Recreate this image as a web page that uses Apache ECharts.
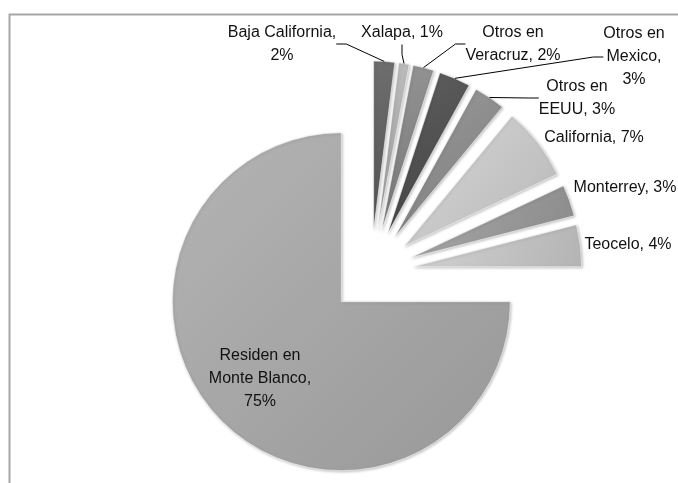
<!DOCTYPE html>
<html>
<head>
<meta charset="utf-8">
<script src="https://cdn.jsdelivr.net/npm/echarts@6/dist/echarts.min.js"></script>
<style>
html,body{margin:0;padding:0;background:#fff;}
#chart{width:678px;height:483px;}
</style>
</head>
<body>
<div id="chart"></div>
<script>
// Data
var categories = ['Baja California', 'Xalapa', 'Otros en Veracruz', 'Otros en Mexico', 'Otros en EEUU', 'California', 'Monterrey', 'Teocelo', 'Residen en Monte Blanco'];
var values = [2, 1, 2, 3, 3, 7, 3, 4, 75];
var labelTexts = ['Baja California,\n2%', 'Xalapa, 1%', 'Otros en\nVeracruz, 2%', 'Otros en\nMexico,\n3%', 'Otros en\nEEUU, 3%', 'California, 7%', 'Monterrey, 3%', 'Teocelo, 4%', 'Residen en\nMonte Blanco,\n75%'];

// Styles (kept separate from data)
var sliceColors = [
  ['#6e6e6e', '#525252'],
  ['#bcbcbc', '#9a9a9a'],
  ['#949494', '#767676'],
  ['#5e5e5e', '#434343'],
  ['#9a9a9a', '#7c7c7c'],
  ['#d6d6d6', '#b8b8b8'],
  ['#a8a8a8', '#8a8a8a'],
  ['#d2d2d2', '#b4b4b4'],
  ['#b4b4b4', '#989898']
];
var labelPos = [
  [282, 44], [402, 33], [513, 44], [634, 57], [577, 98],
  [594, 138], [625, 188], [628, 245], [260, 379]
];
var showLine = [true, true, true, true, true, false, false, false, false];

var chart = echarts.init(document.getElementById('chart'));

var sliceData = values.map(function (v, i) {
  var c = sliceColors[i];
  var grad = new echarts.graphic.LinearGradient(0, 0, 1, 1, [
    {offset: 0, color: c[0]},
    {offset: 1, color: c[1]}
  ]);
  return {
    name: categories[i],
    value: v,
    selected: true,
    itemStyle: {color: grad},
    select: {itemStyle: {color: grad}}
  };
});

var labelData = values.map(function (v, i) {
  return {
    name: categories[i],
    value: v,
    label: {formatter: labelTexts[i]},
    labelLine: {show: showLine[i]}
  };
});

var option = {
  animation: false,
  graphic: [{
    type: 'rect',
    shape: {x: 9.5, y: 14.5, width: 720, height: 520},
    style: {fill: 'none', stroke: '#a6a6a6', lineWidth: 2},
    silent: true,
    z: -1
  }],
  series: [{
    type: 'pie',
    center: [371, 272],
    radius: [0, 169],
    startAngle: 90,
    clockwise: true,
    selectedMode: 'multiple',
    selectedOffset: 42,
    silent: true,
    label: {show: false},
    labelLine: {show: false},
    itemStyle: {
      borderColor: 'rgba(255,255,255,0.55)',
      borderWidth: 1,
      shadowColor: 'rgba(0,0,0,0.25)',
      shadowBlur: 3,
      shadowOffsetX: 1,
      shadowOffsetY: 1
    },
    select: {
      itemStyle: {
        borderColor: 'rgba(255,255,255,0.55)',
        borderWidth: 1
      }
    },
    emphasis: {disabled: true},
    data: sliceData
  }, {
    // invisible companion series carrying the labels and leader lines
    type: 'pie',
    center: [371, 272],
    radius: [0, 211],
    startAngle: 90,
    clockwise: true,
    silent: true,
    avoidLabelOverlap: false,
    itemStyle: {color: 'rgba(0,0,0,0)', borderWidth: 0},
    emphasis: {disabled: true},
    z: 3,
    label: {
      show: true,
      position: 'outside',
      color: '#111',
      fontFamily: 'Liberation Sans, Arial, sans-serif',
      fontSize: 16,
      lineHeight: 23,
      align: 'center'
    },
    labelLine: {
      show: true,
      length: 10,
      length2: 10,
      lineStyle: {color: '#000', width: 1}
    },
    labelLayout: function (params) {
      var p = labelPos[params.dataIndex];
      return {x: p[0], y: p[1], align: 'center', verticalAlign: 'middle'};
    },
    data: labelData
  }]
};
chart.setOption(option);
</script>
</body>
</html>
